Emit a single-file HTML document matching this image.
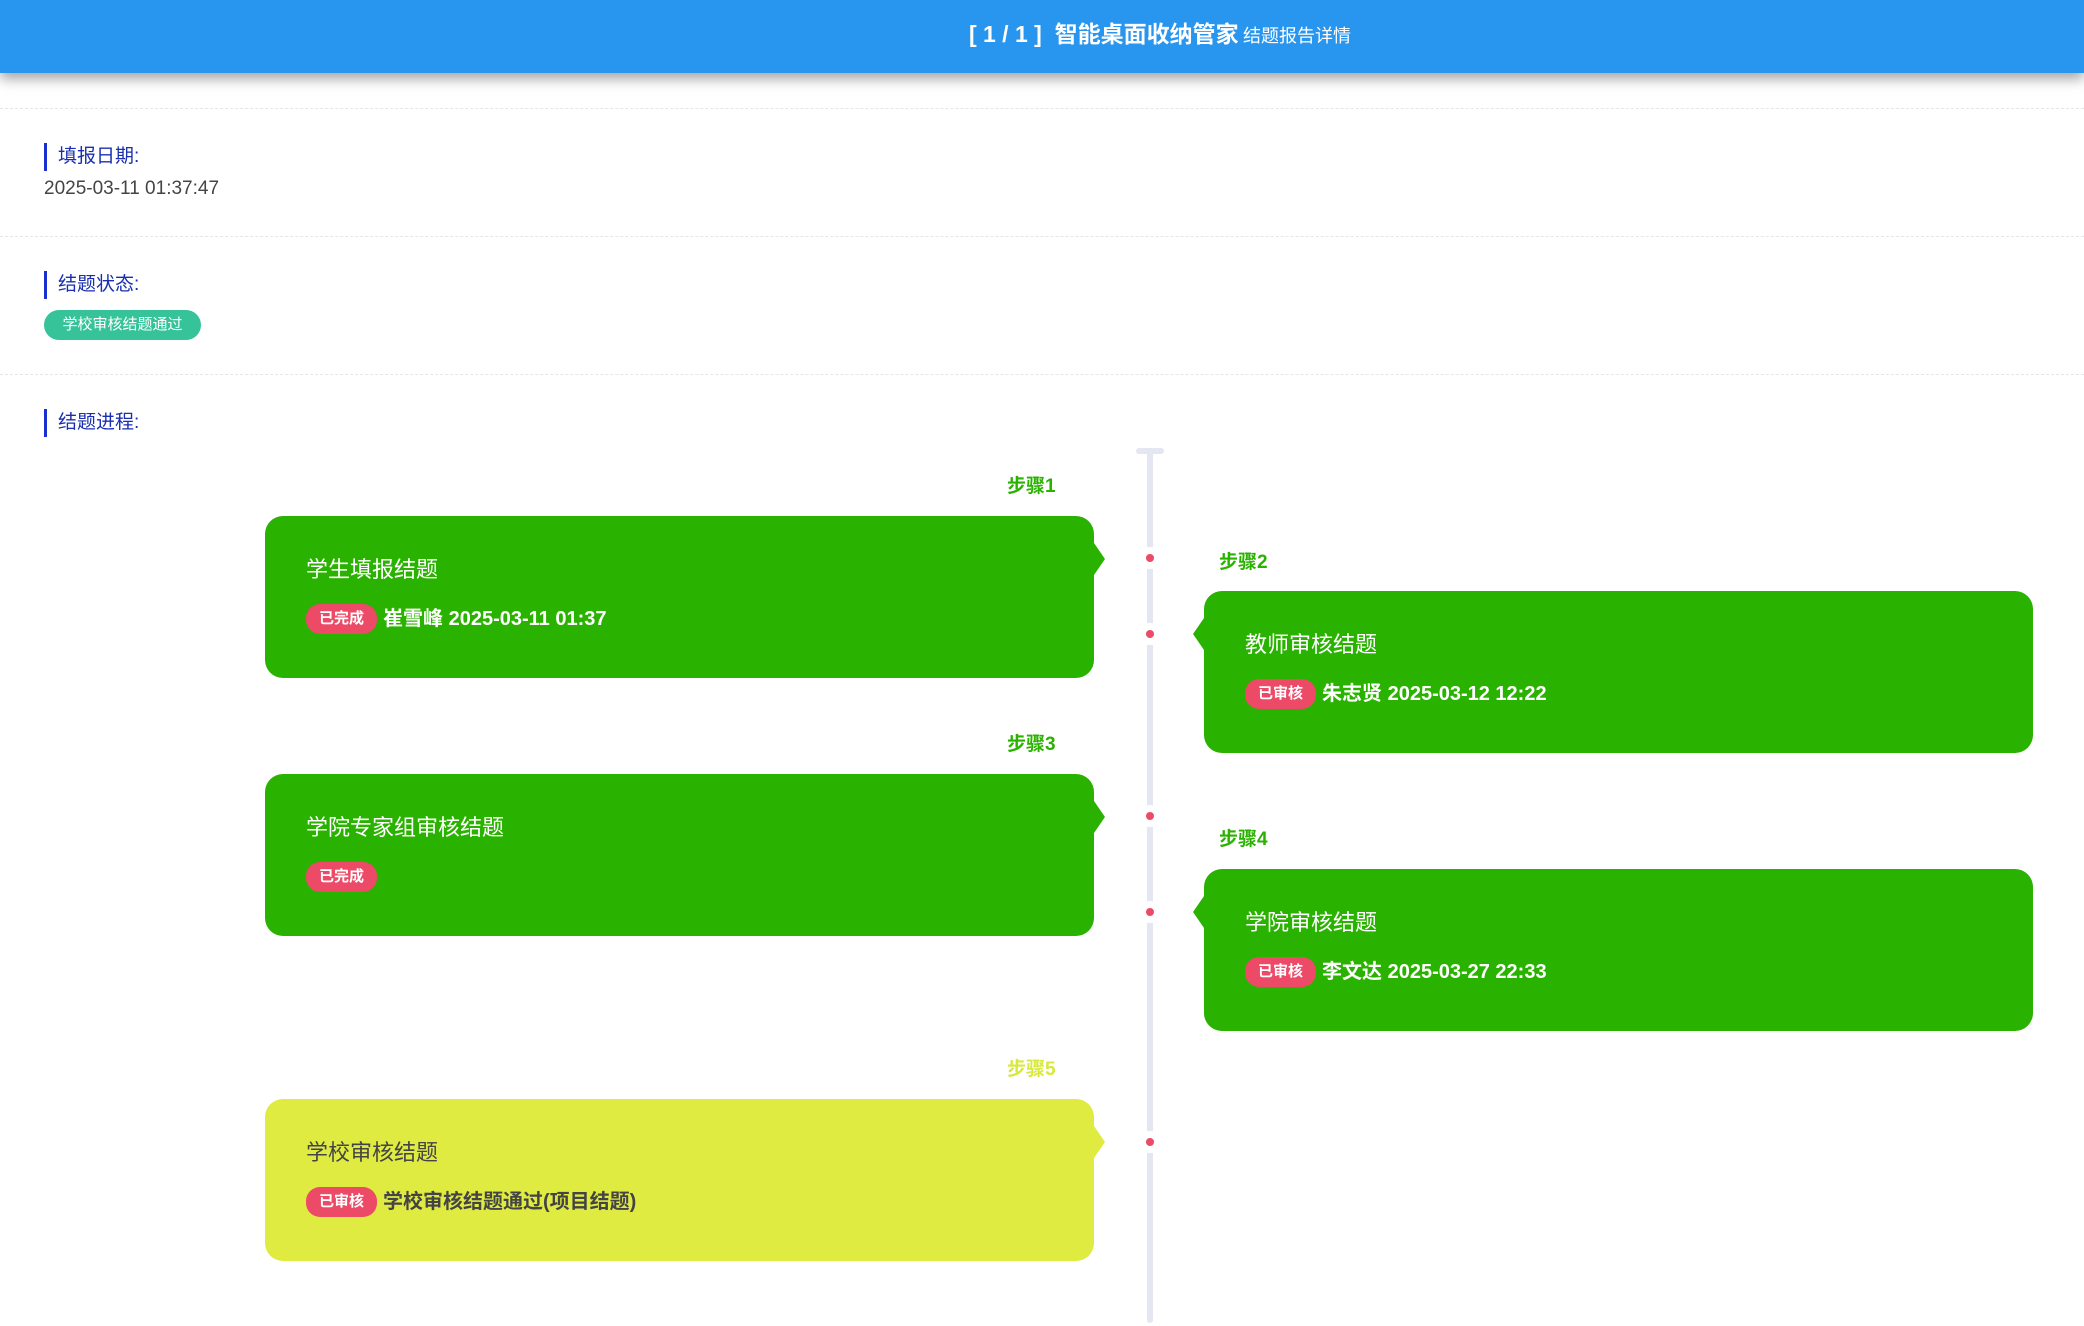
<!DOCTYPE html>
<html><head><meta charset="utf-8"><style>
*{margin:0;padding:0;box-sizing:border-box}
body{width:2084px;height:1326px;background:#fff;position:relative;overflow:hidden;font-family:"Liberation Sans","Noto Sans CJK SC",sans-serif}
.hdr{position:absolute;left:0;top:0;width:2084px;height:73px;background:#2896ee;box-shadow:0 6px 12px rgba(0,0,0,.35);color:#fff;text-align:center;line-height:68px;padding-left:236px}
.hdr b{font-size:23px}.hdr span{font-size:18px}
.dl{position:absolute;left:0;width:2084px;border-top:1px dashed #e6e6e6}
.lab{position:absolute;left:44px;border-left:3px solid #1a2fd0;padding-left:11px;color:#1a2fb0;font-size:19px;line-height:28px;height:28px}
.abs{position:absolute}
.line{position:absolute;left:1147px;width:6px;background:#e4e6f2;border-radius:3px}
.dot{position:absolute;left:1146px;width:8px;height:8px;border-radius:50%;background:#ec4a66;box-shadow:0 0 0 7px #fff}
.card{position:absolute;width:829px;height:162px;border-radius:18px;background:#2ab200;color:#fff}
.card .t{position:absolute;left:41px;top:36px;font-size:22px}
.card .r{position:absolute;left:41px;top:88px;font-size:20px;font-weight:bold;line-height:30px;white-space:nowrap}
.bd{display:inline-block;background:#ec4a66;color:#fff;font-size:15px;border-radius:14px;padding:0 13px;height:30px;line-height:30px;margin-right:6px;vertical-align:top;font-weight:bold}
.ar{position:absolute;top:27px;width:0;height:0;border-top:16px solid transparent;border-bottom:16px solid transparent}
.L .ar{right:-11px;border-left:11px solid #2ab200}
.R .ar{left:-11px;border-right:11px solid #2ab200}
.st{position:absolute;font-size:19px;font-weight:bold;color:#2ab200}
</style></head><body>
<div class="hdr"><b>[ 1 / 1 ]&nbsp; 智能桌面收纳管家</b> <span>结题报告详情</span></div>
<div class="dl" style="top:108px"></div>
<div class="dl" style="top:236px"></div>
<div class="dl" style="top:374px"></div>
<div class="lab" style="top:143px">填报日期:</div>
<div class="abs" style="left:44px;top:178px;font-size:19px;color:#444">2025-03-11 01:37:47</div>
<div class="lab" style="top:271px">结题状态:</div>
<div class="abs" style="left:44px;top:310px;width:157px;height:30px;border-radius:15px;background:#36c39a;color:#fff;font-size:15px;line-height:30px;text-align:center">学校审核结题通过</div>
<div class="lab" style="top:409px">结题进程:</div>

<div class="line" style="top:449px;height:874px"></div>
<div class="abs" style="left:1136px;top:448px;width:28px;height:6px;border-radius:3px;background:#e4e6f2"></div>
<div class="dot" style="top:554px"></div>
<div class="dot" style="top:630px"></div>
<div class="dot" style="top:812px"></div>
<div class="dot" style="top:908px"></div>
<div class="dot" style="top:1138px"></div>

<div class="st" style="left:1007px;top:471px">步骤1</div>
<div class="card L" style="left:265px;top:516px"><div class="ar"></div><div class="t">学生填报结题</div><div class="r"><span class="bd">已完成</span>崔雪峰 2025-03-11 01:37</div></div>

<div class="st" style="left:1219px;top:547px">步骤2</div>
<div class="card R" style="left:1204px;top:591px"><div class="ar"></div><div class="t">教师审核结题</div><div class="r"><span class="bd">已审核</span>朱志贤 2025-03-12 12:22</div></div>

<div class="st" style="left:1007px;top:729px">步骤3</div>
<div class="card L" style="left:265px;top:774px"><div class="ar"></div><div class="t">学院专家组审核结题</div><div class="r"><span class="bd">已完成</span></div></div>

<div class="st" style="left:1219px;top:824px">步骤4</div>
<div class="card R" style="left:1204px;top:869px"><div class="ar"></div><div class="t">学院审核结题</div><div class="r"><span class="bd">已审核</span>李文达 2025-03-27 22:33</div></div>

<div class="st" style="left:1007px;top:1054px;color:#d8e83c">步骤5</div>
<div class="card L" style="left:265px;top:1099px;background:#e0eb42;color:#444"><div class="ar" style="border-left-color:#e0eb42"></div><div class="t">学校审核结题</div><div class="r"><span class="bd">已审核</span>学校审核结题通过(项目结题)</div></div>
</body></html>
